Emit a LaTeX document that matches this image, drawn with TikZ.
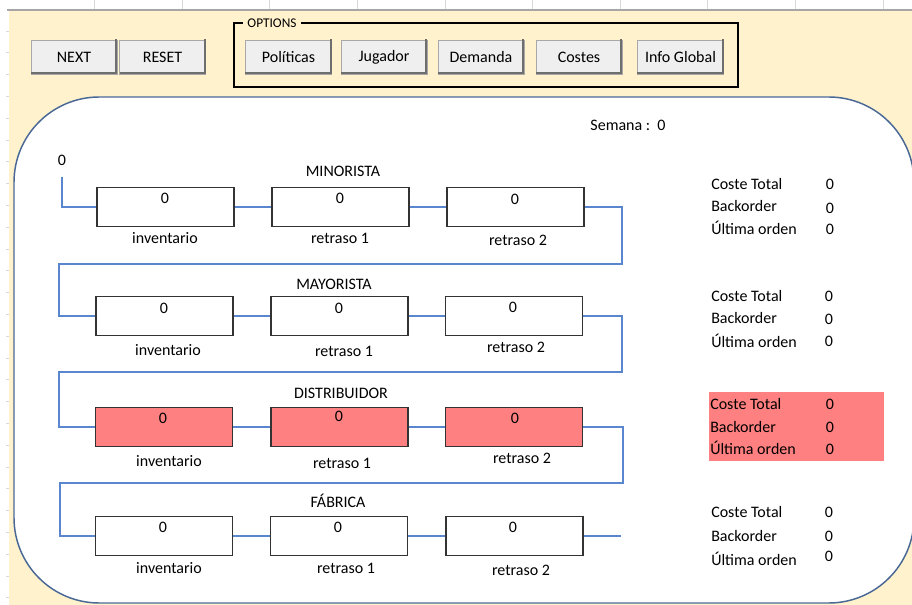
\documentclass[tikz,border=0pt]{standalone}
\usepackage{fontspec}
\setmainfont{Carlito}
\definecolor{cream}{HTML}{FFF2CC}
\definecolor{linkblue}{HTML}{5A86CF}
\definecolor{frameblue}{HTML}{4A6896}
\definecolor{alert}{HTML}{FF8080}
\definecolor{btnface}{HTML}{EFEFEF}
\definecolor{btnedge}{HTML}{A8A8A8}
\definecolor{btnshade}{HTML}{6E6E6E}
\definecolor{sheetline}{HTML}{A6A6A6}
\definecolor{sheettick}{HTML}{D8D8D8}

\begin{document}
\begin{tikzpicture}[x=0.75pt,y=-0.75pt,
  font=\fontsize{12}{14}\selectfont,
  txt/.style={inner sep=0pt,text height=8pt,text depth=0pt},
  lbl/.style={txt,anchor=west},
  stockbox/.style={draw=black!80,line width=0.9pt,fill=white,
    minimum width=102.75pt,minimum height=29.25pt,inner sep=0pt},
  hotbox/.style={stockbox,fill=alert},
  button/.style={draw=btnedge,line width=0.6pt,fill=btnface,
    minimum height=25.5pt,inner sep=0pt},
  flow/.style={draw=linkblue,line width=1pt},
  shade/.style={draw=btnshade,line width=1.4pt}]

\useasboundingbox (0,0) rectangle (912,605);

% worksheet backdrop
\fill[white] (0,0) rectangle (912,605);
\fill[cream] (9,11) rectangle (912,605);
\draw[sheetline,line width=1.5pt] (7,10) -- (912,10);
\foreach \cx in {94.6,182.2,269.8,357.4,445,532.6,620.2,707.8,795.4,883}
  \draw[sheettick,line width=0.6pt] (\cx,0) -- (\cx,9);
\foreach \k in {0,...,26}
  \draw[sheettick,line width=0.6pt] (6,31+21.8*\k) -- (9,31+21.8*\k);

% toolbar buttons
\newcommand{\tbutton}[4]{%
  \node[button,minimum width=#3] (#1) at #2 {#4};
  \draw[shade] ([xshift=-0.8pt,yshift=0.3pt]#1.north east) --
               ([xshift=-0.8pt,yshift=0.8pt]#1.south east) --
               ([xshift=0.3pt,yshift=0.8pt]#1.south west);}
\tbutton{next}{(74,57)}{64.5pt}{NEXT}
\tbutton{reset}{(162.5,57)}{64.5pt}{RESET}

% options group
\draw[black,line width=0.8pt] (234,23) rectangle (738,87);
\node[fill=cream,inner xsep=3pt,inner ysep=1pt,
  font=\fontsize{10}{12}\selectfont] (opts) at (272,23) {OPTIONS};
\tbutton{pol}{(288.5,57)}{65pt}{Políticas}
\tbutton{jug}{(384,57)}{64.5pt}{Jugador}
\tbutton{dem}{(481,57)}{64.5pt}{Demanda}
\tbutton{cos}{(579,57)}{64.5pt}{Costes}
\tbutton{info}{(680.5,57)}{65pt}{Info Global}

% main panel
\begin{scope}
  \clip (0,0) rectangle (912,605);
  \draw[frameblue,fill=white,line width=1.1pt,rounded corners=64pt]
    (14,97) rectangle (914,603);
\end{scope}

\node[txt] (week) at (628,125) {Semana :\ \ 0};
\node[txt] (start) at (62,160) {0};

% MINORISTA
\node[txt] (tA) at (343,171) {MINORISTA};
\node[stockbox] (a1) at (165.5,207) {};
\node[stockbox] (a2) at (340.5,207) {};
\node[stockbox] (a3) at (515.5,207) {};
\node[txt] (va1) at (165,198) {0};
\node[txt] (va2) at (340,198) {0};
\node[txt] (va3) at (515,199) {0};
\node[txt] (la1) at (165,238) {inventario};
\node[txt] (la2) at (340,238) {retraso 1};
\node[txt] (la3) at (518,240) {retraso 2};

% MAYORISTA
\node[txt] (tB) at (334,284) {MAYORISTA};
\node[stockbox] (b1) at (164.5,316) {};
\node[stockbox] (b2) at (339.5,316) {};
\node[stockbox] (b3) at (514,316) {};
\node[txt] (vb1) at (164,308) {0};
\node[txt] (vb2) at (339,308) {0};
\node[txt] (vb3) at (513,307) {0};
\node[txt] (lb1) at (168,350) {inventario};
\node[txt] (lb2) at (344,351) {retraso 1};
\node[txt] (lb3) at (516,347) {retraso 2};

% DISTRIBUIDOR
\node[txt] (tC) at (341,393) {DISTRIBUIDOR};
\node[hotbox] (c1) at (164,427) {};
\node[hotbox] (c2) at (339.5,427) {};
\node[hotbox] (c3) at (514,427) {};
\node[txt] (vc1) at (163,418) {0};
\node[txt] (vc2) at (339,416) {0};
\node[txt] (vc3) at (515,418) {0};
\node[txt] (lc1) at (169,461) {inventario};
\node[txt] (lc2) at (342,463) {retraso 1};
\node[txt] (lc3) at (522,458) {retraso 2};

% FABRICA
\node[txt] (tD) at (338,502) {FÁBRICA};
\node[stockbox] (d1) at (164,536) {};
\node[stockbox] (d2) at (339,536) {};
\node[stockbox] (d3) at (514.5,536) {};
\node[txt] (vd1) at (163,527) {0};
\node[txt] (vd2) at (338,527) {0};
\node[txt] (vd3) at (513,527) {0};
\node[txt] (ld1) at (169,568) {inventario};
\node[txt] (ld2) at (346,568) {retraso 1};
\node[txt] (ld3) at (521,570) {retraso 2};

% flow of goods through the chain
\coordinate (s0) at (62,177);
\coordinate (ra) at (622,264); \coordinate (la) at (59,264);
\coordinate (rb) at (622,372); \coordinate (lb) at (59,372);
\coordinate (rc) at (623,483); \coordinate (lc) at (60,483);
\coordinate (dend) at (621,536);
\draw[flow] (s0) |- (a1.west);
\draw[flow] (a1.east) -- (a2.west);
\draw[flow] (a2.east) -- (a3.west);
\draw[flow] (a3.east) -| (ra) -- (la) |- (b1.west);
\draw[flow] (b1.east) -- (b2.west);
\draw[flow] (b2.east) -- (b3.west);
\draw[flow] (b3.east) -| (rb) -- (lb) |- (c1.west);
\draw[flow] (c1.east) -- (c2.west);
\draw[flow] (c2.east) -- (c3.west);
\draw[flow] (c3.east) -| (rc) -- (lc) |- (d1.west);
\draw[flow] (d1.east) -- (d2.west);
\draw[flow] (d2.east) -- (d3.west);
\draw[flow] (d3.east) -- (dend);

% cost summaries
\fill[alert] (709,392) rectangle (884,461);
\node[lbl] (ctA) at (711,184) {Coste Total};
\node[lbl] (boA) at (711,206) {Backorder};
\node[lbl] (uoA) at (711,229) {Última orden};
\node[txt] (ctAv) at (830,184) {0};
\node[txt] (boAv) at (830,208) {0};
\node[txt] (uoAv) at (830,229) {0};

\node[lbl] (ctB) at (711,296) {Coste Total};
\node[lbl] (boB) at (711,318) {Backorder};
\node[lbl] (uoB) at (711,342) {Última orden};
\node[txt] (ctBv) at (829,296) {0};
\node[txt] (boBv) at (829,319) {0};
\node[txt] (uoBv) at (829,341) {0};

\node[lbl] (ctC) at (710,404) {Coste Total};
\node[lbl] (boC) at (710,427) {Backorder};
\node[lbl] (uoC) at (710,449) {Última orden};
\node[txt] (ctCv) at (830,404) {0};
\node[txt] (boCv) at (830,427) {0};
\node[txt] (uoCv) at (830,449) {0};

\node[lbl] (ctD) at (711,512) {Coste Total};
\node[lbl] (boD) at (711,536) {Backorder};
\node[lbl] (uoD) at (711,560) {Última orden};
\node[txt] (ctDv) at (829,512) {0};
\node[txt] (boDv) at (829,536) {0};
\node[txt] (uoDv) at (829,556) {0};
\end{tikzpicture}
\end{document}
